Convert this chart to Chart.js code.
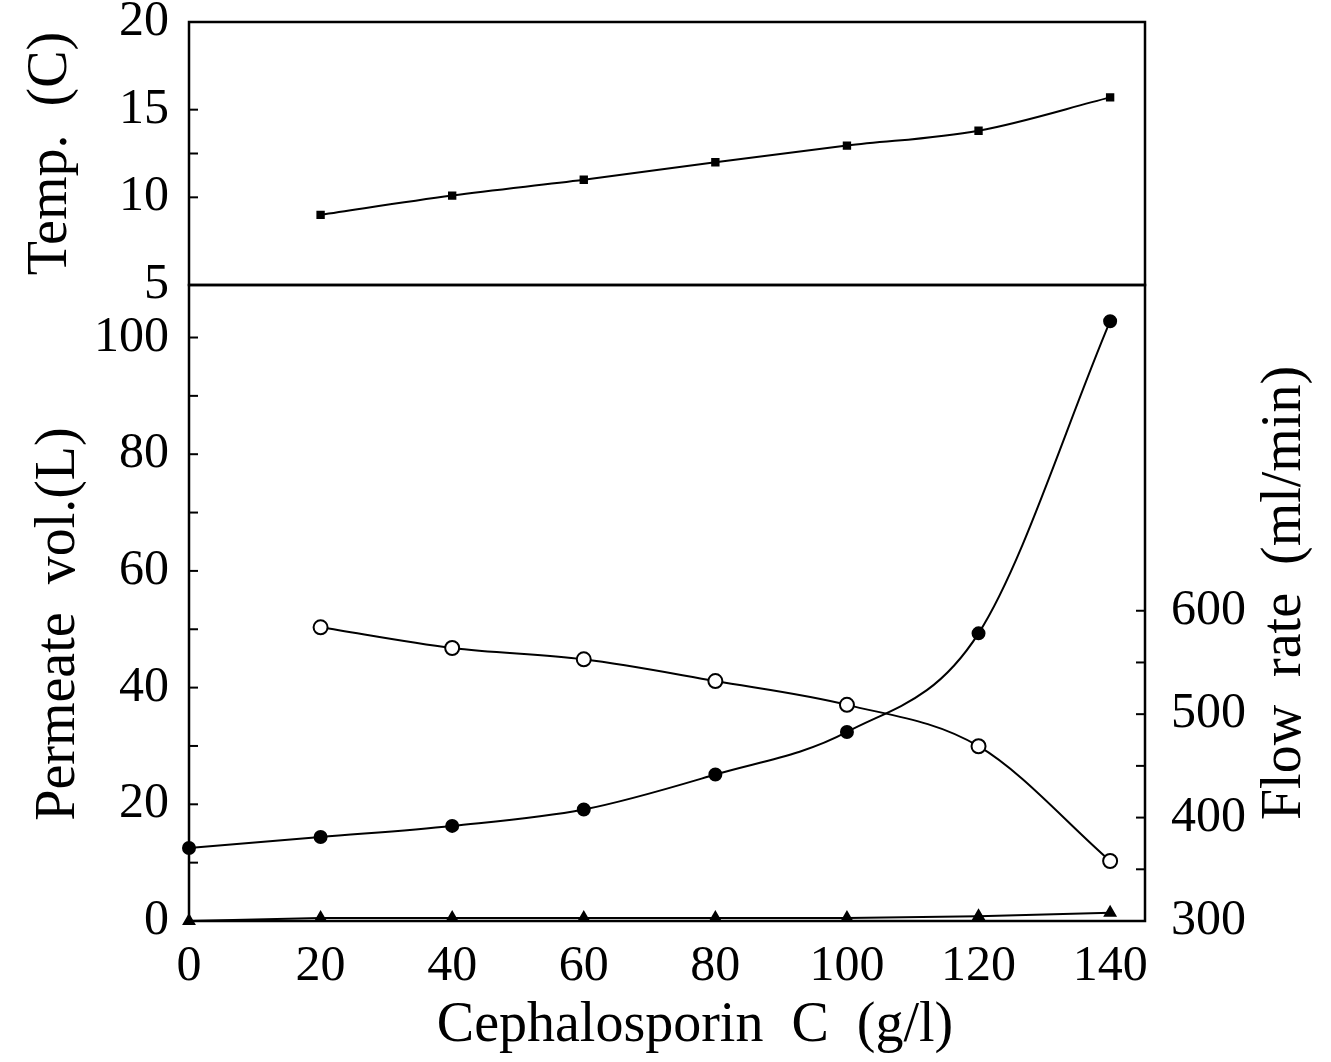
<!DOCTYPE html>
<html>
<head>
<meta charset="utf-8">
<script src="https://cdn.jsdelivr.net/npm/chart.js@4.4.0/dist/chart.umd.min.js"></script>
<style>
  html, body { margin: 0; padding: 0; background: #fff; overflow: hidden; }
  #wrap { position: relative; width: 1331px; height: 1062px; }
  #top { position: absolute; left: 0; top: -20px; }
  #bottom { position: absolute; left: 0; top: 237px; }
</style>
</head>
<body>
<div id="wrap">
  <canvas id="top" width="1331" height="360"></canvas>
  <canvas id="bottom" width="1331" height="825"></canvas>
</div>
<script>
// x values (Cephalosporin C, g/l)
const concentration = [0, 20, 40, 60, 80, 100, 120, 140];
const concentrationNoZero = [20, 40, 60, 80, 100, 120, 140];

// series
const temperature = [9.0, 10.1, 11.0, 12.0, 12.95, 13.8, 15.7];
const permeateVol = [12.5, 14.4, 16.3, 19.1, 25.1, 32.4, 49.3, 102.8];
const flowRate = [584, 564, 553, 532, 509, 469, 358];
const baseline = [0, 0.5, 0.5, 0.5, 0.5, 0.5, 0.8, 1.4];

// tick labels and tick marks
const xTicks = [0, 20, 40, 60, 80, 100, 120, 140];
const tempTicks = [5, 10, 15, 20];
const tempMarks = [10, 12.5, 15];
const permTicks = [0, 20, 40, 60, 80, 100];
const permMarks = [10, 20, 30, 40, 50, 60, 70, 80, 90, 100];
const flowTicks = [300, 400, 500, 600];
const flowMarks = [350, 400, 450, 500, 550, 600];

const FONT = '"Liberation Serif", "DejaVu Serif", serif';
Chart.defaults.font.family = FONT;
Chart.defaults.color = "#000";

const pts = (xs, ys) => xs.map((x, i) => ({ x: x, y: ys[i] }));
const setTicks = (vals) => (scale) => { scale.ticks = vals.map((v) => ({ value: v })); };

// box around the plot area + inward tick marks
const framePlugin = {
    id: "frame",
    afterDraw(chart, args, opts) {
        const ctx = chart.ctx;
        const a = chart.chartArea;
        ctx.save();
        ctx.strokeStyle = "#000";
        ctx.lineWidth = 2.5;
        ctx.strokeRect(a.left, a.top, a.right - a.left, a.bottom - a.top);
        ctx.lineWidth = 2;
        (opts.marks || []).forEach((m) => {
            const s = chart.scales[m.axis];
            m.values.forEach((v) => {
                const y = s.getPixelForValue(v);
                ctx.beginPath();
                if (s.position === "left") {
                    ctx.moveTo(a.left, y);
                    ctx.lineTo(a.left + 9, y);
                } else {
                    ctx.moveTo(a.right, y);
                    ctx.lineTo(a.right - 9, y);
                }
                ctx.stroke();
            });
        });
        if (opts.rightTitle) {
            ctx.font = "56px " + FONT;
            ctx.fillStyle = "#000";
            ctx.textAlign = "center";
            ctx.textBaseline = "middle";
            ctx.translate(1285, (a.top + a.bottom) / 2 - 10);
            ctx.rotate(-Math.PI / 2);
            ctx.fillText(opts.rightTitle, 0, 0);
        }
        ctx.restore();
    },
};

const tickFont = { size: 50 };
const titleFont = { size: 56 };

new Chart(document.getElementById("top"), {
    type: "scatter",
    data: {
        datasets: [
            {
                label: "Temp.",
                data: pts(concentrationNoZero, temperature),
                showLine: true,
                cubicInterpolationMode: "monotone",
                borderColor: "#000",
                borderWidth: 2,
                pointStyle: "rect",
                pointRadius: 4.5,
                pointBackgroundColor: "#000",
                pointBorderColor: "#000",
            },
        ],
    },
    options: {
        responsive: false,
        animation: false,
        layout: { padding: { top: 39, right: 186, bottom: 55, left: 0 } },
        plugins: {
            legend: { display: false },
            tooltip: { enabled: false },
            frame: { marks: [{ axis: "y", values: tempMarks }] },
        },
        scales: {
            x: {
                type: "linear",
                display: false,
                min: 0,
                max: 145.3,
            },
            y: {
                position: "left",
                min: 5,
                max: 20,
                afterBuildTicks: setTicks(tempTicks),
                afterFit: (s) => { s.width = 189; },
                grid: { display: false },
                border: { display: false },
                ticks: { font: tickFont, padding: 12 },
                title: {
                    display: true,
                    text: "Temp.  (C)",
                    font: titleFont,
                    padding: { top: 18, bottom: 0 },
                },
            },
        },
    },
    plugins: [framePlugin],
});

new Chart(document.getElementById("bottom"), {
    type: "scatter",
    data: {
        datasets: [
            {
                label: "Permeate vol.",
                data: pts(concentration, permeateVol),
                yAxisID: "y",
                showLine: true,
                cubicInterpolationMode: "monotone",
                borderColor: "#000",
                borderWidth: 2,
                pointStyle: "circle",
                pointRadius: 6,
                pointBackgroundColor: "#000",
                pointBorderColor: "#000",
                clip: false,
            },
            {
                label: "Flow rate",
                data: pts(concentrationNoZero, flowRate),
                yAxisID: "y1",
                showLine: true,
                cubicInterpolationMode: "monotone",
                borderColor: "#000",
                borderWidth: 2,
                pointStyle: "circle",
                pointRadius: 7,
                pointBorderWidth: 2,
                pointBackgroundColor: "#fff",
                pointBorderColor: "#000",
            },
            {
                label: "baseline",
                data: pts(concentration, baseline),
                yAxisID: "y",
                showLine: true,
                borderColor: "#000",
                borderWidth: 2,
                pointStyle: "triangle",
                pointRadius: 6,
                pointBackgroundColor: "#000",
                pointBorderColor: "#000",
                clip: false,
            },
        ],
    },
    options: {
        responsive: false,
        animation: false,
        layout: { padding: { top: 45, right: 0, bottom: 0, left: 0 } },
        plugins: {
            legend: { display: false },
            tooltip: { enabled: false },
            frame: {
                marks: [
                    { axis: "y", values: permMarks },
                    { axis: "y1", values: flowMarks },
                ],
                rightTitle: "Flow  rate  (ml/min)",
            },
        },
        scales: {
            x: {
                type: "linear",
                min: 0,
                max: 145.3,
                afterBuildTicks: setTicks(xTicks),
                afterFit: (s) => { s.height = 141; },
                grid: { display: false, drawTicks: false },
                border: { display: false },
                ticks: { font: tickFont, padding: 16 },
                title: {
                    display: true,
                    text: "    Cephalosporin  C  (g/l)",
                    font: titleFont,
                    padding: { top: 0, bottom: 2 },
                },
            },
            y: {
                position: "left",
                min: 0,
                max: 109,
                afterBuildTicks: setTicks(permTicks),
                afterFit: (s) => { s.width = 189; },
                grid: { display: false },
                border: { display: false },
                ticks: { font: tickFont, padding: 12 },
                title: {
                    display: true,
                    text: "Permeate  vol.(L)   ",
                    font: titleFont,
                    padding: { top: 26, bottom: 0 },
                },
            },
            y1: {
                position: "right",
                min: 300,
                max: 915,
                afterBuildTicks: setTicks(flowTicks),
                afterFit: (s) => { s.width = 186; },
                grid: { display: false },
                border: { display: false },
                ticks: { font: tickFont, padding: 18 },
            },
        },
    },
    plugins: [framePlugin],
});
</script>
</body>
</html>
